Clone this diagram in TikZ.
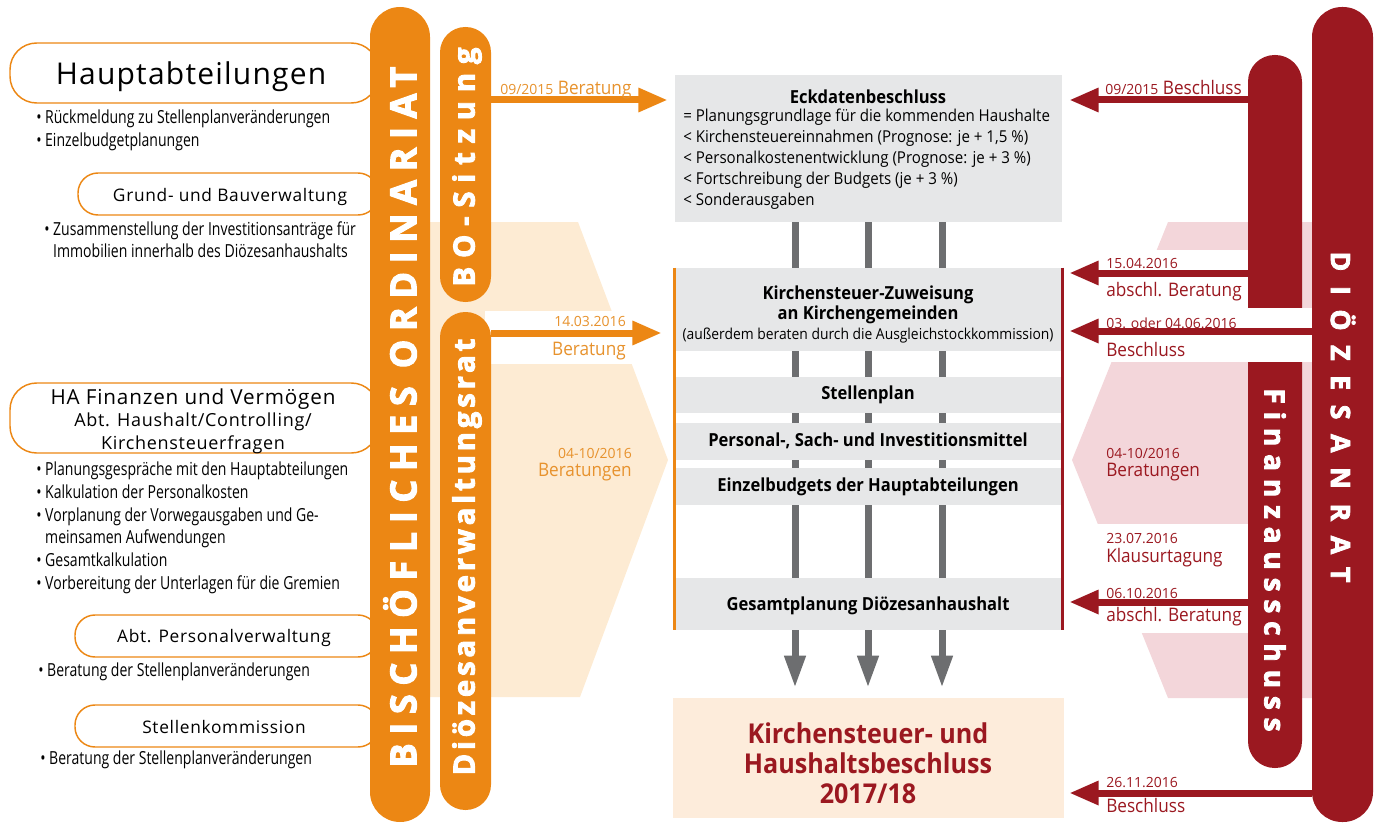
\documentclass[tikz,border=0pt]{standalone}
\usepackage{fontspec}
\setmainfont{Open Sans}
\newfontfamily\condfont[FakeStretch=0.78]{Open Sans}
\newfontfamily\midfont[FakeStretch=0.92]{Open Sans}
\newfontfamily\headfont[LetterSpace=4]{Open Sans}
\newfontfamily\barfont[FakeBold=3]{Open Sans}
\usetikzlibrary{fit,arrows.meta,positioning}

\definecolor{ora}{RGB}{236,135,20}
\definecolor{oratxt}{RGB}{231,146,45}
\definecolor{oralight}{RGB}{253,235,211}
\definecolor{drd}{RGB}{155,24,32}
\definecolor{pinklight}{RGB}{243,214,218}
\definecolor{boxgray}{RGB}{230,231,232}
\definecolor{bargray}{RGB}{109,110,112}
\definecolor{peach}{RGB}{253,236,219}

\newcommand{\dat}[1]{{\rmfamily\fontsize{10.5}{12}\selectfont #1}}

\tikzset{
  hbox/.style={draw=ora, line width=1.1pt, fill=white, rounded corners=15pt, inner sep=0pt},
  htxt/.style={inner sep=0pt, align=center, font=\headfont\fontsize{13}{16}\selectfont},
  blist/.style={anchor=north west, inner sep=0pt, align=left,
    font=\condfont\fontsize{13.5}{17}\selectfont},
  obar/.style={fill=ora, inner sep=0pt},
  rbar/.style={fill=drd, inner sep=0pt},
  bartxt/.style={text=white, inner sep=0pt},
  gbox/.style={fill=boxgray, inner sep=0pt},
  gtxt/.style={inner sep=0pt, align=center, font=\midfont\bfseries\fontsize{13.5}{15.5}\selectfont},
  oarrow/.style={ora, line width=5.25pt, -{Triangle[length=22pt,width=17pt]}},
  rarrow/.style={drd, line width=5.25pt, -{Triangle[length=22pt,width=17pt]}},
  garrow/.style={bargray, line width=5.25pt, -{Triangle[length=24pt,width=15pt]}},
  olbl/.style={text=oratxt, inner sep=0pt, font=\midfont\fontsize{14}{16}\selectfont},
  rlbl/.style={text=drd, inner sep=0pt, anchor=base west, font=\midfont\fontsize{14}{16}\selectfont},
}

\begin{document}
\begin{tikzpicture}[x=0.75pt,y=-0.75pt]
\useasboundingbox (0,0) rectangle (1378,824);

% background shapes
\fill[oralight] (400,222) -- (578,222) -- (668,460) -- (580,697) -- (400,697) -- cycle;
\fill[white] (485,311) rectangle (645,364);
\fill[pinklight] (1168,222) -- (1320,222) -- (1320,698) -- (1168,698) -- (1072,460) -- cycle;
\fill[white] (1085,250) rectangle (1250,308);
\fill[white] (1068,524) rectangle (1250,633);

% grey bars behind the boxes
\foreach \gx in {795,868,942}
  \draw[bargray, line width=5.25pt] (868,222 -| \gx,0) -- (868,630 -| \gx,0);

% centre boxes
\node[gbox, fit={(675,75) (1062,222)}] (eck) {};
\node[gtxt] (eckt) at (868,97) {Eckdatenbeschluss};
\node[anchor=north west, align=left, inner sep=0pt, font=\midfont\fontsize{12.3}{15.6}\selectfont] (eckl) at (683,109)
  {= Planungsgrundlage für die kommenden Haushalte\\
   < Kirchensteuereinnahmen (Prognose: je + 1,5 \%)\\
   < Personalkostenentwicklung (Prognose: je + 3 \%)\\
   < Fortschreibung der Budgets (je + 3 \%)\\
   < Sonderausgaben};
\node[gbox, fit={(675,268) (1062,351)}] (kst) {};
\node[gtxt] (kstt) at (868,314)
  {Kirchensteuer-Zuweisung\\an Kirchengemeinden\\[-1pt]{\mdseries\fontsize{11.3}{13}\selectfont (außerdem beraten durch die Ausgleichstockkommission)}};
\node[gbox, fit={(675,377) (1062,413)}] (stp) {};
\node[gtxt] (stpt) at (868,395) {Stellenplan};
\node[gbox, fit={(675,423) (1062,460)}] (psi) {};
\node[gtxt] (psit) at (868,441) {Personal-, Sach- und Investitionsmittel};
\node[gbox, fit={(675,468) (1062,505)}] (ezb) {};
\node[gtxt] (ezbt) at (868,487) {Einzelbudgets der Hauptabteilungen};
\node[gbox, fit={(675,578) (1062,630)}] (ges) {};
\node[gtxt] (gest) at (868,606) {Gesamtplanung Diözesanhaushalt};
\node[gbox, fill=peach, fit={(673,698) (1064,818)}] (fin) {};
\node[gtxt, text=drd, font=\midfont\bfseries\fontsize{20.5}{22.5}\selectfont] (fint) at (868,763)
  {Kirchensteuer- und\\Haushaltsbeschluss\\2017/18};

\draw[ora, line width=2.25pt] (kst.north west) -- (ges.south west);
\draw[drd, line width=2.25pt] (kst.north east) -- (ges.south east);
\foreach \gx in {795,868,942}
  \draw[garrow, shorten >=7.5pt] (ges.south -| \gx,0) -- (fin.north -| \gx,0);

% left boxes
\node[hbox, fit={(10,43) (378,103)}, rounded corners=20pt] (hpt) {};
\node[htxt, font=\headfont\fontsize{22.5}{26}\selectfont] (hptt) at (191,77) {Hauptabteilungen};
\node[blist] (hptl) at (36,110)
  {• Rückmeldung zu Stellenplanveränderungen\\• Einzelbudgetplanungen};
\node[hbox, fit={(78,173) (378,215)}] (gbv) {};
\node[htxt] (gbvt) at (230,197) {Grund- und Bauverwaltung};
\node[blist] (gbvl) at (44,221)
  {• Zusammenstellung der Investitionsanträge für\\\phantom{• }Immobilien innerhalb des Diözesanhaushalts};
\node[hbox, fit={(10,383) (378,453)}, rounded corners=20pt] (hafin) {};
\node[htxt, font=\headfont\fontsize{13.5}{17}\selectfont] (hafint) at (193,421)
  {{\fontsize{15.5}{17}\selectfont HA Finanzen und Vermögen}\\Abt. Haushalt/Controlling/\\Kirchensteuerfragen};
\node[blist] (hafinl) at (36,462)
  {• Planungsgespräche mit den Hauptabteilungen\\
   • Kalkulation der Personalkosten\\
   • Vorplanung der Vorwegausgaben und Ge-\\
   \phantom{• }meinsamen Aufwendungen\\
   • Gesamtkalkulation\\
   • Vorbereitung der Unterlagen für die Gremien};
\node[hbox, fit={(75,615) (378,657)}] (apv) {};
\node[htxt] (apvt) at (224,638) {Abt. Personalverwaltung};
\node[blist] (apvl) at (38,663) {• Beratung der Stellenplanveränderungen};
\node[hbox, fit={(75,705) (378,747)}] (stk) {};
\node[htxt] (stkt) at (224,727) {Stellenkommission};
\node[blist] (stkl) at (40,751) {• Beratung der Stellenplanveränderungen};

% orange bars
\node[obar, fit={(370,7) (430,822)}, rounded corners=22.5pt] (bisch) {};
\node[bartxt, rotate=90,
  font=\barfont\bfseries\fontsize{27}{27}\selectfont\addfontfeature{LetterSpace=24}] (bischt) at (400,417)
  {BISCHÖFLICHES ORDINARIAT};
\node[obar, fit={(440,27) (491,302)}, rounded corners=19pt] (bo) {};
\node[bartxt, rotate=90,
  font=\barfont\bfseries\fontsize{22}{22}\selectfont\addfontfeature{LetterSpace=30}] (bot) at (467,167)
  {BO-Sitzung};
\node[obar, fit={(440,312) (491,810)}, rounded corners=19pt] (dv) {};
\node[bartxt, rotate=90,
  font=\barfont\bfseries\fontsize{22}{22}\selectfont\addfontfeature{LetterSpace=13}] (dvt) at (467,557)
  {Diözesanverwaltungsrat};

% red bars
\node[rbar, fit={(1248,55) (1302,768)}, rounded corners=20pt] (fa) {};
\fill[white] (1085,308) rectangle (1312,362);
\node[bartxt, rotate=-90,
  font=\barfont\bfseries\fontsize{21}{21}\selectfont\addfontfeature{LetterSpace=28}] (fat) at (1275,560)
  {Finanzausschuss};
\node[rbar, fit={(1312,7) (1373,822)}, rounded corners=22.5pt] (dr) {};
\node[bartxt, rotate=-90,
  font=\barfont\bfseries\fontsize{20}{20}\selectfont\addfontfeature{LetterSpace=55}] (drt) at (1343,417)
  {DIÖZESANRAT};

% orange arrows
\draw[oarrow, shorten >=5.25pt] (bo.east |- 0,100) -- (eck.west |- 0,100);
\draw[oarrow, shorten >=9.75pt] (dv.east |- 0,333) -- (kst.west |- 0,333);
\node[olbl, anchor=base west] (ob1) at (500,94) {\dat{09/2015} Beratung};
\node[olbl, anchor=base east] (ob2a) at (626,326) {\dat{14.03.2016}};
\node[olbl, anchor=base east] (ob2b) at (626,355) {Beratung};
\node[olbl, anchor=base east] (ob3a) at (632,458) {\dat{04-10/2016}};
\node[olbl, anchor=base east] (ob3b) at (632,476) {Beratungen};

% red arrows
\draw[rarrow, shorten >=5.25pt] (fa.west |- 0,100) -- (eck.east |- 0,100);
\draw[rarrow, shorten >=5.25pt] (fa.west |- 0,273) -- (kst.east |- 0,273);
\draw[rarrow, shorten >=5.25pt] (dr.west |- 0,331) -- (kst.east |- 0,331);
\draw[rarrow, shorten >=5.25pt] (fa.west |- 0,602) -- (ges.east |- 0,602);
\draw[rarrow, shorten >=3.75pt] (dr.west |- 0,793) -- (fin.east |- 0,793);
\node[rlbl] (rb1) at (1105,94) {\dat{09/2015} Beschluss};
\node[rlbl] (rb2a) at (1106,268) {\dat{15.04.2016}};
\node[rlbl] (rb2b) at (1106,296) {abschl. Beratung};
\node[rlbl] (rb3a) at (1106,328) {\dat{03. oder 04.06.2016}};
\node[rlbl] (rb3b) at (1106,356) {Beschluss};
\node[rlbl] (rb4a) at (1106,458) {\dat{04-10/2016}};
\node[rlbl] (rb4b) at (1106,476) {Beratungen};
\node[rlbl] (rb5a) at (1106,543) {\dat{23.07.2016}};
\node[rlbl] (rb5b) at (1106,562) {Klausurtagung};
\node[rlbl] (rb6a) at (1106,598) {\dat{06.10.2016}};
\node[rlbl] (rb6b) at (1106,621) {abschl. Beratung};
\node[rlbl] (rb7a) at (1106,787) {\dat{26.11.2016}};
\node[rlbl] (rb7b) at (1106,812) {Beschluss};

\end{tikzpicture}
\end{document}
